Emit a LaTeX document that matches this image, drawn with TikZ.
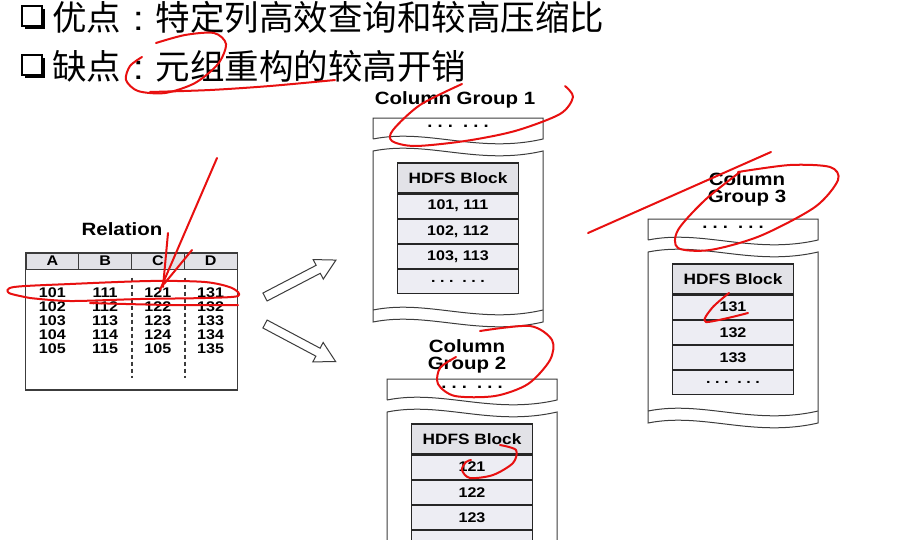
\documentclass[tikz,border=0pt]{standalone}
\usepackage{fontspec}
\setmainfont{Liberation Sans}[FakeStretch=1.15]
\newfontfamily\cjk{Noto Sans CJK SC}
\usetikzlibrary{positioning, shadows}

\definecolor{blockfill}{RGB}{237,237,243}
\definecolor{headfill}{RGB}{226,226,231}
\definecolor{inkred}{RGB}{232,16,16}
\definecolor{linegray}{RGB}{60,60,60}

\newcommand\midcolon{\makebox[1em]{\rmfamily :}}

\begin{document}
\frenchspacing
\begin{tikzpicture}[x = 1pt, y = -1pt]
    \tikzset{
        outline/.style = {draw = linegray, line width = 1pt},
        chkbox/.style = {
            draw,
            fill = white,
            line width = 1.3pt,
            minimum size = 20pt,
            inner sep = 0pt,
            drop shadow = {shadow xshift = 2.5pt, shadow yshift = -2.5pt, fill = black, opacity = 1}
        },
        cjktext/.style = {anchor = west, inner sep = 0pt, font = \cjk\fontsize{34.5}{40}\selectfont},
        title/.style = {inner sep = 0pt, align = center, font = \bfseries\fontsize{17.8}{17}\selectfont},
        relhead/.style = {
            draw = linegray,
            line width = 1pt,
            fill = headfill,
            minimum width = 52.75pt,
            minimum height = 16pt,
            inner sep = 0pt,
            font = \bfseries\fontsize{14}{14}\selectfont
        },
        relval/.style = {inner sep = 0pt, font = \bfseries\fontsize{14}{14}\selectfont},
        divider/.style = {draw = linegray, line width = 1.6pt, dash pattern = on 4pt off 3pt},
        hollow/.style = {draw = linegray, line width = 1pt, fill = white, line join = miter},
        blockhead/.style = {
            draw = black!85,
            line width = 1.1pt,
            fill = headfill,
            minimum width = 121pt,
            minimum height = 30pt,
            inner sep = 0pt,
            font = \bfseries\fontsize{15}{15}\selectfont
        },
        blockrow/.style = {
            blockhead,
            fill = blockfill,
            minimum height = 24pt,
            font = \bfseries\fontsize{14}{14}\selectfont
        },
        dotsfont/.style = {inner sep = 0pt, font = \bfseries\fontsize{16}{16}\selectfont},
        redink/.style = {draw = inkred, line width = 2pt, line cap = round, line join = round}
    }

    \useasboundingbox (0,0) rectangle (920,539);
    \clip (0,0) rectangle (920,539);
    \fill[white] (0,0) rectangle (920,539);

    % heading lines
    \node[chkbox] (chk1) at (32,16) {};
    \node[chkbox] (chk2) at (32,65) {};
    \node[cjktext] (pro) at (52,17) {优点\midcolon 特定列高效查询和较高压缩比};
    \node[cjktext] (con) at (52,66) {缺点\midcolon 元组重构的较高开销};

    % relation table
    \node[title] (reltitle) at (122,229) {Relation};
    \foreach \c [count = \i] in {A, B, C, D}{
        \node[relhead] (h\c) at ({26 + 52.75 * (\i - 0.5)}, 261) {\c};
    }
    \draw[outline, line width = 1.3pt] (hA.north west) rectangle (hD.east |- 0,390);
    \foreach \c in {B, C}{
        \draw[divider] ([yshift = -8pt]h\c.south east) -- ++(0,100);
    }
    \foreach \va/\vb/\vc/\vd [count = \r] in
        {101/111/121/131, 102/112/122/132, 103/113/123/133, 104/114/124/134, 105/115/105/135}{
        \node[relval] (a\r) at (hA |- 0,279 + 14 * \r) {\va};
        \node[relval] (b\r) at (hB |- 0,279 + 14 * \r) {\vb};
        \node[relval] (c\r) at (hC |- 0,279 + 14 * \r) {\vc};
        \node[relval] (d\r) at (hD |- 0,279 + 14 * \r) {\vd};
    }

    % split arrows
    \foreach \ang/\px/\py in {27.5/265/297, -28/265/324}{
        \draw[hollow, shift = {(\px,\py)}, rotate = \ang]
            (0,-4.5) -- (60,-4.5) -- (60,-11) -- (80,0) -- (60,11) -- (60,4.5) -- (0,4.5) -- cycle;
    }

    % column groups
    \foreach \g/\gx/\gy in {1/373/118, 2/387/379, 3/648/219}{
        \begin{scope}[shift = {(\gx,\gy)}]
            \draw[outline] (0,21) -- (0,0) -- (170,0) -- (170,21) .. controls (105,36) and (55,10) .. (0,21);
            \draw[outline] (0,33) .. controls (55,22) and (105,48) .. (170,33) -- (170,204)
                .. controls (105,219) and (55,193) .. (0,204) -- cycle;
            \draw[outline] (0,192) .. controls (55,181) and (105,207) .. (170,192);
            \node[dotsfont] (top\g) at (85,8) {. . .\ \ . . .};
            \node[blockhead] (r\g0) at (85,60) {HDFS Block};
        \end{scope}
    }
    \foreach \g in {1, 2, 3}{
        \foreach \k [evaluate = \k as \j using {int(\k - 1)}] in {1, ..., 4}{
            \node[blockrow, below = 0pt of r\g\j] (r\g\k)
                {\ifnum\k=4 . . .\ \ . . .\else\ifcase\g\or 10\k, 11\k\or 12\k\or 13\k\fi\fi};
        }
    }
    \node[title] (cg1) at (455,100) {Column Group 1};
    \node[title] (cg2) at (467,356) {Column\\Group 2};
    \node[title] (cg3) at (747,189) {Column\\Group 3};

    % red pen marks
    \draw[redink] plot[smooth] coordinates {(156,43) (185,35) (214,33) (226,44) (218,64) (195,83)
        (165,93) (138,91) (126,80) (130,66) (142,57)};
    \draw[redink] plot[smooth] coordinates {(150,92) (210,90) (270,86) (335,80)};
    \draw[redink] (217,158) -- (160,290);
    \draw[redink] (168,233) -- (163,287);
    \draw[redink] (192,250) -- (164,284);
    \draw[redink] plot[smooth] coordinates {(30,298) (9,293) (14,287) (70,284) (150,281) (205,282)
        (232,288) (238,296) (205,298) (140,299) (70,301) (30,298)};
    \draw[redink] plot[smooth] coordinates {(90,303) (170,305) (238,305)};
    \draw[redink] plot[smooth] coordinates {(462,84) (420,105) (393,130) (392,141) (415,146) (465,141)
        (515,131) (560,114) (573,97) (565,86)};
    \draw[redink] (588,233) -- (771,152);
    \draw[redink] plot[smooth] coordinates {(738,172) (790,165) (830,167) (838,180) (815,207) (760,236)
        (710,250) (678,248) (678,230) (705,200) (740,172)};
    \draw[redink] plot[smooth] coordinates {(729,293) (712,308) (706,322) (748,313)};
    \draw[redink] plot[smooth] coordinates {(480,331) (530,326) (552,340) (550,360) (528,384) (495,396)
        (455,396) (438,384) (440,368) (456,357)};
    \draw[redink] plot[smooth] coordinates {(500,445) (516,450) (513,463) (493,475) (470,478) (462,470)
        (466,462) (471,460)};
\end{tikzpicture}
\end{document}
